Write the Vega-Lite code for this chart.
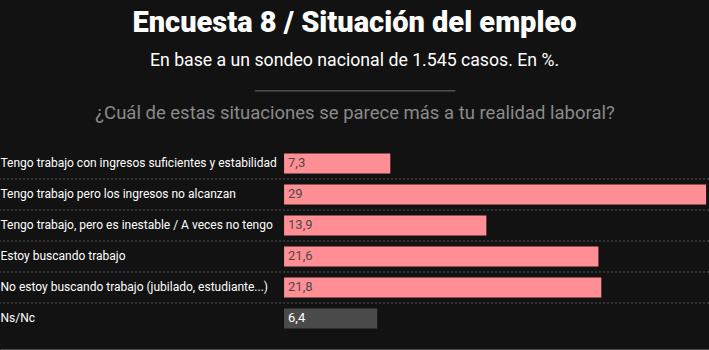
{
  "$schema": "https://vega.github.io/schema/vega-lite/v6.json",
  "width": 709,
  "height": 201,
  "autosize": {"type": "none"},
  "padding": {"left": 0, "right": 0, "top": 148, "bottom": 1},
  "background": "#121212",
  "config": {
    "view": {"stroke": null},
    "locale": {"number": {"decimal": ",", "thousands": ".", "grouping": [3], "currency": ["$", ""]}}
  },
  "title": {
    "text": "Encuesta 8 / Situación del empleo",
    "subtitle": "En base a un sondeo nacional de 1.545 casos. En %.",
    "anchor": "middle",
    "frame": "group",
    "font": "Roboto",
    "fontSize": 29,
    "fontWeight": 900,
    "color": "#ffffff",
    "subtitleFont": "Roboto",
    "subtitleFontSize": 17.7,
    "subtitleColor": "#ffffff",
    "subtitlePadding": 14,
    "offset": 12
  },
  "data": {
    "values": [
      {"respuesta": "Tengo trabajo con ingresos suficientes y estabilidad", "valor": 7.3},
      {"respuesta": "Tengo trabajo pero los ingresos no alcanzan", "valor": 29},
      {"respuesta": "Tengo trabajo, pero es inestable / A veces no tengo", "valor": 13.9},
      {"respuesta": "Estoy buscando trabajo", "valor": 21.6},
      {"respuesta": "No estoy buscando trabajo (jubilado, estudiante...)", "valor": 21.8},
      {"respuesta": "Ns/Nc", "valor": 6.4}
    ]
  },
  "encoding": {
    "y": {
      "field": "respuesta",
      "type": "nominal",
      "sort": null,
      "scale": {"paddingInner": 0, "paddingOuter": 0.242, "align": 0},
      "axis": {
        "domain": false,
        "ticks": false,
        "grid": false,
        "labelAlign": "left",
        "labelBaseline": "middle",
        "labelPadding": 0,
        "labelFont": "Roboto",
        "labelFontSize": 12,
        "labelColor": "#ffffff",
        "labelLimit": 0,
        "title": "¿Cuál de estas situaciones se parece más a tu realidad laboral?",
        "titleAngle": 0,
        "titleX": 354.5,
        "titleY": -36,
        "titleAlign": "center",
        "titleBaseline": "middle",
        "titleFont": "Roboto",
        "titleFontSize": 18.5,
        "titleFontWeight": "normal",
        "titleColor": "#8a8a8a"
      }
    }
  },
  "layer": [
    {
      "transform": [{"filter": "datum.respuesta != 'Ns/Nc'"}],
      "mark": {"type": "rule", "color": "#555555", "strokeWidth": 1, "strokeDash": [2, 2]},
      "encoding": {
        "y": {"field": "respuesta", "type": "nominal", "sort": null, "bandPosition": 1}
      }
    },
    {
      "mark": {"type": "bar", "height": {"band": 0.645}},
      "encoding": {
        "x": {
          "field": "valor",
          "type": "quantitative",
          "scale": {"domain": [-19.52, 29.2], "nice": false, "zero": false},
          "axis": {
            "orient": "bottom",
            "domain": true,
            "domainColor": "#4a4a4a",
            "domainWidth": 1,
            "labels": false,
            "ticks": false,
            "grid": false,
            "title": "───────────────────",
            "titleFont": "DejaVu Sans",
            "titleFontSize": 17.5,
            "titleFontWeight": "normal",
            "titleColor": "#4d4d4d",
            "titleX": 354.5,
            "titleY": -258,
            "titleAlign": "center",
            "titleBaseline": "middle"
          }
        },
        "x2": {"datum": 0},
        "color": {
          "condition": {"test": "datum.respuesta == 'Ns/Nc'", "value": "#4b4b4b"},
          "value": "#ff8f94"
        }
      }
    },
    {
      "mark": {"type": "text", "align": "left", "baseline": "middle", "dx": 4, "font": "Roboto", "fontSize": 13},
      "encoding": {
        "x": {"datum": 0},
        "text": {"field": "valor", "type": "quantitative", "format": ".1~f"},
        "color": {
          "condition": {"test": "datum.respuesta == 'Ns/Nc'", "value": "#ffffff"},
          "value": "#4a4a4a"
        }
      }
    }
  ]
}
